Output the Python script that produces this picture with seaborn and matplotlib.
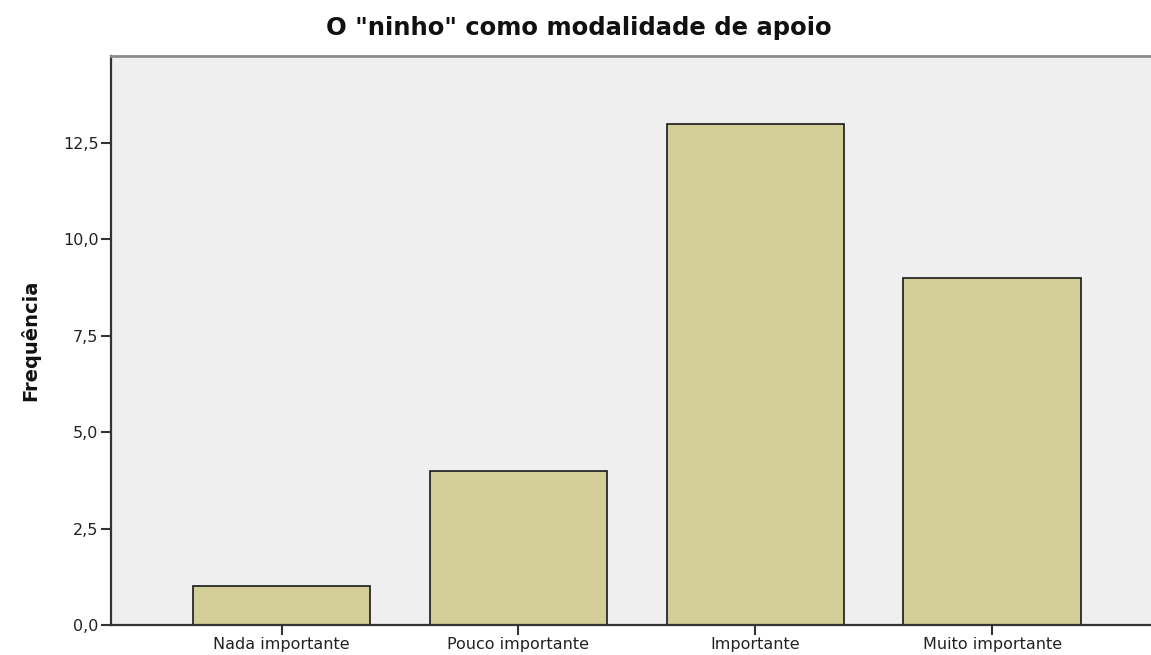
import seaborn as sns
import matplotlib.pyplot as plt
import pandas as pd
from matplotlib.ticker import FuncFormatter

# dados
categorias = ["Nada importante", "Pouco importante", "Importante", "Muito importante"]
frequencias = [1, 4, 13, 9]
yticks = [0, 2.5, 5, 7.5, 10, 12.5]

df = pd.DataFrame({"categoria": categorias, "freq": frequencias})

sns.set_style("white")
plt.rcParams["font.family"] = ["DejaVu Sans"]

fig = plt.figure(figsize=(11.51, 6.55), dpi=100)
ax = fig.add_axes([111 / 1151, 30 / 655, 1 - 111 / 1151, (625 - 56) / 655])
ax.set_facecolor("#efefef")

sns.barplot(data=df, x="categoria", y="freq", color="#d3cd97", saturation=1,
            width=0.75, edgecolor="#1a1a1a", linewidth=1.2, ax=ax)

ax.set_xlim(-0.72, 3.67)
ax.set_ylim(0, 14.76)
ax.set_yticks(yticks)
ax.yaxis.set_major_formatter(FuncFormatter(lambda v, p: f"{v:.1f}".replace(".", ",")))
ax.tick_params(axis="both", direction="out", length=7, width=1.5, color="#333333",
               labelsize=11.5, labelcolor="#222222", pad=2)
ax.tick_params(axis="y", left=True)
ax.tick_params(axis="x", bottom=True)

for side in ["left", "bottom"]:
    ax.spines[side].set_color("#333333")
    ax.spines[side].set_linewidth(1.6)
ax.spines["top"].set_color("#8a8a8a")
ax.spines["top"].set_linewidth(2)
ax.spines["right"].set_visible(False)

ax.set_xlabel("")
ax.set_ylabel("")
fig.text(0.503, 0.958, 'O "ninho" como modalidade de apoio', ha="center", va="center",
         fontsize=17.5, fontweight="bold", color="#111111")
fig.text(0.026, 0.48, "Frequência", rotation=90, ha="center", va="center",
         fontsize=14, fontweight="bold", color="#111111")

fig.savefig("out.png", dpi=100)
